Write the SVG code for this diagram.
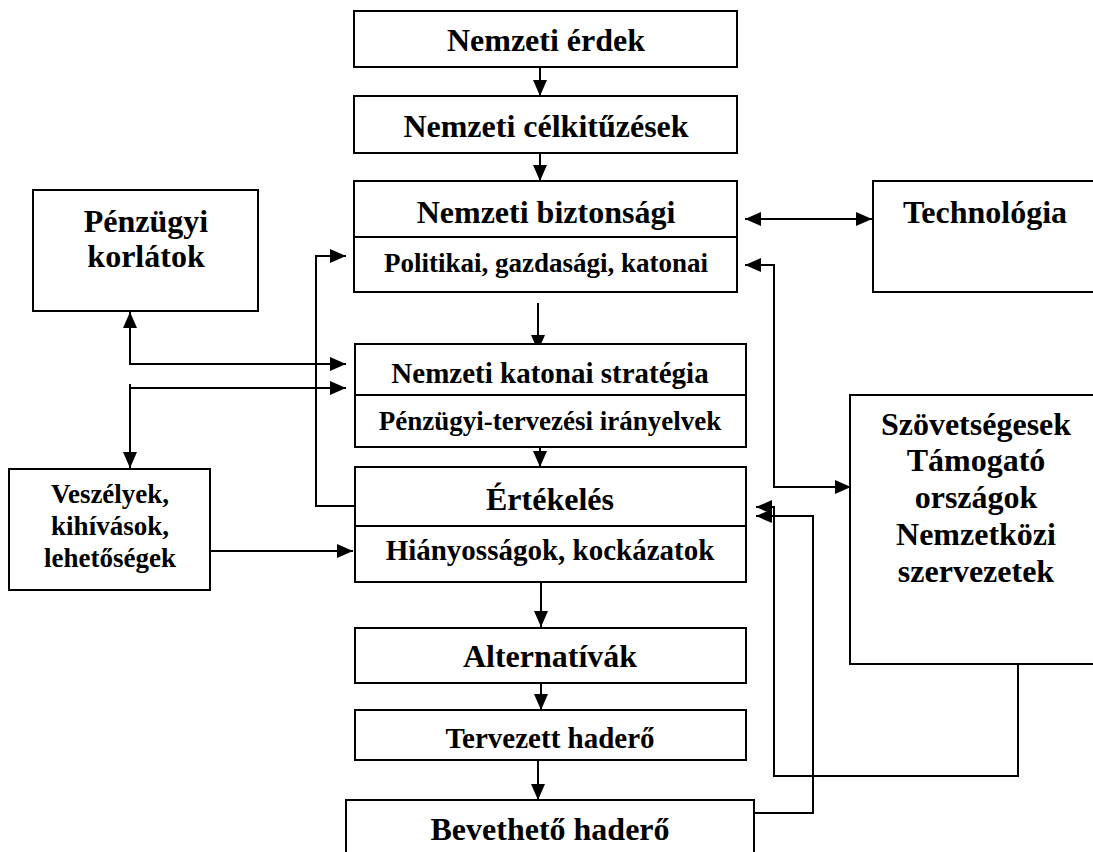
<svg xmlns="http://www.w3.org/2000/svg" width="1093" height="852" viewBox="0 0 1093 852">
  <defs>
    <marker id="arrow" markerUnits="userSpaceOnUse" markerWidth="16" markerHeight="16" viewBox="0 0 16 16" refX="16" refY="8" orient="auto-start-reverse">
      <path d="M0,1 L16,8 L0,15 Z" fill="#000"/>
    </marker>
  </defs>
  <style>
    .box { fill: #fff; stroke: #000; stroke-width: 2; }
    .div { stroke: #000; stroke-width: 2; }
    .link { fill: none; stroke: #000; stroke-width: 2; }
    .arr { marker-end: url(#arrow); }
    .both { marker-start: url(#arrow); marker-end: url(#arrow); }
    text { font-family: "Liberation Serif", "Times New Roman", serif; font-weight: bold; fill: #000; text-anchor: middle; }
    .big { font-size: 32px; }
    .mid { font-size: 29px; }
    .sm { font-size: 27px; }
  </style>

  <rect width="1093" height="852" fill="#fff"/>

  <!-- connectors -->
  <g id="connectors">
    <path class="link arr" d="M540,67 V96"/>
    <path class="link arr" d="M540,153 V181"/>
    <path class="link arr" d="M538,303 V351"/>
    <path class="link arr" d="M540,442 V467"/>
    <path class="link arr" d="M541,582 V627"/>
    <path class="link arr" d="M541,683 V710"/>
    <path class="link arr" d="M538,760 V800"/>
    <!-- technology exchange -->
    <path class="link both" d="M745,219 H872"/>
    <!-- allies loop -->
    <path class="link both" d="M745,265 H774 V487 H851"/>
    <path class="link arr" d="M1018,664 V776 H774 V507 H756"/>
    <path class="link arr" d="M754,813 H813 V516 H756"/>
    <!-- feedback from evaluation -->
    <path class="link arr" d="M355,506 H316 V256 H346"/>
    <!-- financial constraints -->
    <path class="link both" d="M130,312 V364 H346"/>
    <path class="link arr" d="M130,388 H346"/>
    <path class="link arr" d="M130,384 V468"/>
    <!-- threats into assessment -->
    <path class="link arr" d="M210,551 H353"/>
  </g>

  <g id="nemzeti-erdek">
    <rect class="box" x="354" y="11" width="383" height="56"/>
    <text class="big" x="546" y="51">Nemzeti érdek</text>
  </g>

  <g id="nemzeti-celkituzesek">
    <rect class="box" x="354" y="96" width="383" height="57"/>
    <text class="big" x="546" y="137">Nemzeti célkitűzések</text>
  </g>

  <g id="nemzeti-biztonsagi">
    <rect class="box" x="354" y="181" width="383" height="111"/>
    <line class="div" x1="354" y1="237" x2="737" y2="237"/>
    <text class="big" x="546" y="223">Nemzeti biztonsági</text>
    <text class="sm" x="546" y="272">Politikai, gazdasági, katonai</text>
  </g>

  <g id="technologia">
    <rect class="box" x="873" y="181" width="230" height="111"/>
    <text class="big" x="985" y="223">Technológia</text>
  </g>

  <g id="penzugyi-korlatok">
    <rect class="box" x="33" y="190" width="225" height="121"/>
    <text class="big" x="146" y="232">Pénzügyi</text>
    <text class="big" x="146" y="267">korlátok</text>
  </g>

  <g id="nemzeti-katonai-strategia">
    <rect class="box" x="355" y="344" width="391" height="103"/>
    <line class="div" x1="355" y1="395" x2="746" y2="395"/>
    <text class="mid" x="550" y="383">Nemzeti katonai stratégia</text>
    <text class="sm" x="550" y="430">Pénzügyi-tervezési irányelvek</text>
  </g>

  <g id="szovetsegesek">
    <rect class="box" x="850" y="395" width="253" height="269"/>
    <text class="big" x="976" y="435">Szövetségesek</text>
    <text class="big" x="976" y="471">Támogató</text>
    <text class="big" x="976" y="508">országok</text>
    <text class="big" x="976" y="545">Nemzetközi</text>
    <text class="big" x="976" y="582">szervezetek</text>
  </g>

  <g id="veszelyek">
    <rect class="box" x="9" y="469" width="201" height="121"/>
    <text class="sm" x="110" y="503">Veszélyek,</text>
    <text class="sm" x="110" y="535">kihívások,</text>
    <text class="sm" x="110" y="567">lehetőségek</text>
  </g>

  <g id="ertekeles">
    <rect class="box" x="355" y="467" width="391" height="115"/>
    <line class="div" x1="355" y1="526" x2="746" y2="526"/>
    <text class="big" x="550" y="510">Értékelés</text>
    <text class="mid" x="550" y="560">Hiányosságok, kockázatok</text>
  </g>

  <g id="alternativak">
    <rect class="box" x="355" y="628" width="391" height="55"/>
    <text class="big" x="550" y="667">Alternatívák</text>
  </g>

  <g id="tervezett-haderő">
    <rect class="box" x="355" y="710" width="391" height="50"/>
    <text class="mid" x="550" y="748">Tervezett haderő</text>
  </g>

  <g id="bevetheto-haderő">
    <rect class="box" x="346" y="800" width="408" height="70"/>
    <text class="big" x="550" y="840">Bevethető haderő</text>
  </g>
</svg>
